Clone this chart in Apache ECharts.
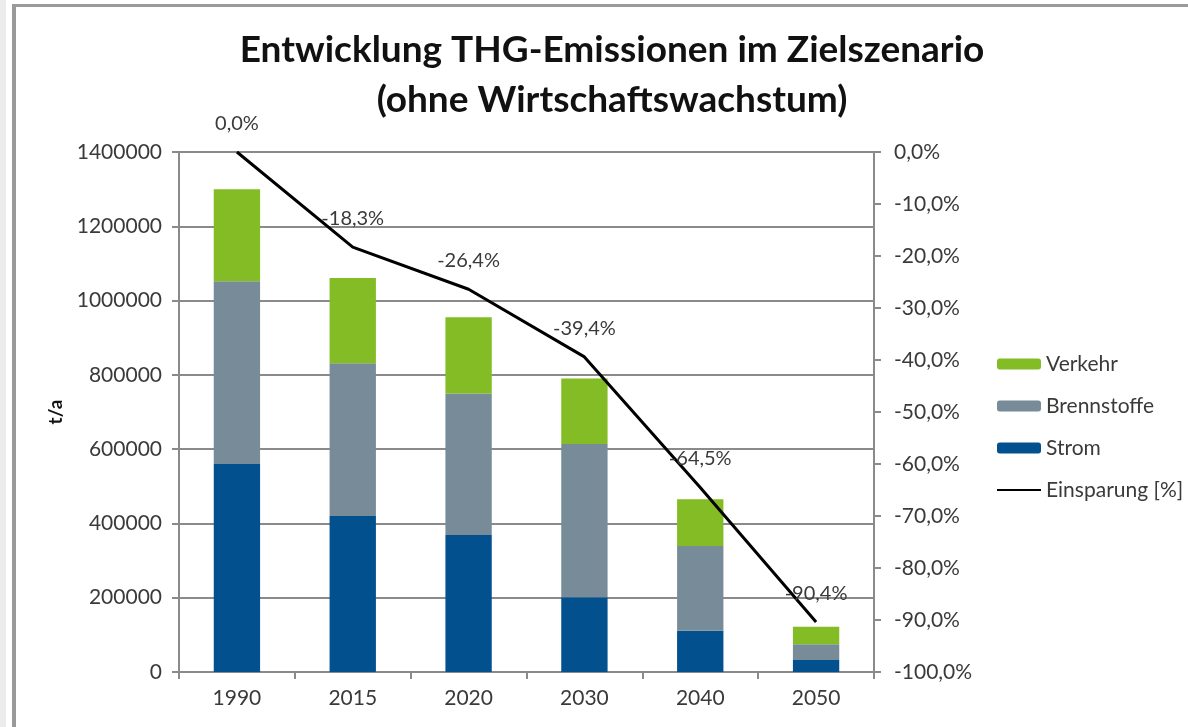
<!DOCTYPE html>
<html lang="de">
<head>
    <meta charset="UTF-8">
    <title>THG-Emissionen</title>
    <style>
        html, body { margin: 0; padding: 0; background: #fff; overflow: hidden; }
        #main { position: absolute; left: 0; top: 0; width: 1188px; height: 727px; }
        .strip { position: absolute; left: 0; top: 0; width: 6px; height: 727px; background: #ececec; }
        .frame { position: absolute; left: 12px; top: 4px; width: 1300px; height: 900px;
                 border-left: 4px solid #9a9a9a; border-top: 3px solid #9a9a9a; pointer-events: none; }
    </style>
</head>
<body>
    <div id="main"></div>
    <div class="strip"></div>
    <div class="frame"></div>

    <script src="https://cdn.jsdelivr.net/npm/echarts@6/dist/echarts.min.js"></script>
    <script>
        // Daten
        var jahre = ['1990', '2015', '2020', '2030', '2040', '2050'];
        var strom = [560000, 420000, 369000, 201000, 111000, 32000];
        var brennstoffe = [492000, 411000, 381000, 413000, 228000, 43000];
        var verkehr = [248000, 230000, 205000, 176000, 126000, 47000];
        var einsparung = [0.0, -18.3, -26.4, -39.4, -64.5, -90.4];

        var font = 'Lato';
        var textColor = '#3a3a3a';
        var grau = '#8a8a8a';

        function prozent(v) {
            return v.toFixed(1).replace('.', ',') + '%';
        }

        var myChart = echarts.init(document.getElementById('main'));
        var option = {
            backgroundColor: '#fff',
            animation: false,
            textStyle: { fontFamily: font },
            title: {
                text: 'Entwicklung THG-Emissionen im Zielszenario\n(ohne Wirtschaftswachstum)',
                left: 607,
                top: 20,
                textAlign: 'center',
                textStyle: { fontFamily: font, fontSize: 37, fontWeight: 'bold', color: '#111', lineHeight: 50 }
            },
            legend: {
                orient: 'vertical',
                left: 991,
                top: 348,
                itemWidth: 44,
                itemHeight: 11,
                itemGap: 20,
                textStyle: { fontFamily: font, fontSize: 21, lineHeight: 22, color: textColor },
                data: ['Verkehr', 'Brennstoffe', 'Strom', 'Einsparung [%]']
            },
            grid: { left: 179, right: 314, top: 152, bottom: 55 },
            xAxis: {
                type: 'category',
                data: jahre,
                axisLine: { lineStyle: { color: grau, width: 2 } },
                axisTick: { show: true, length: 7, lineStyle: { color: grau, width: 2 } },
                axisLabel: { fontSize: 21, color: textColor, margin: 16 }
            },
            yAxis: [
                {
                    type: 'value',
                    min: 0,
                    max: 1400000,
                    interval: 200000,
                    name: 't/a',
                    nameLocation: 'middle',
                    nameRotate: 90,
                    nameGap: 106,
                    nameTextStyle: { fontSize: 19, fontWeight: 'bold', color: '#111' },
                    axisLine: { show: true, lineStyle: { color: grau, width: 2 } },
                    axisTick: { show: true, length: 7, lineStyle: { color: grau, width: 2 } },
                    axisLabel: { fontSize: 21, color: textColor, margin: 17, formatter: function (v) { return String(v); } },
                    splitLine: { lineStyle: { color: grau, width: 2 } }
                },
                {
                    type: 'value',
                    min: -100,
                    max: 0,
                    interval: 10,
                    position: 'right',
                    axisLine: { show: true, lineStyle: { color: grau, width: 2 } },
                    axisTick: { show: true, length: 7, lineStyle: { color: grau, width: 2 } },
                    axisLabel: { fontSize: 21, color: textColor, margin: 20, formatter: prozent },
                    splitLine: { show: false }
                }
            ],
            series: [
                {
                    name: 'Strom', type: 'bar', stack: 'thg', barWidth: '40%',
                    itemStyle: { color: '#02508e' }, data: strom
                },
                {
                    name: 'Brennstoffe', type: 'bar', stack: 'thg',
                    itemStyle: { color: '#778c98' }, data: brennstoffe
                },
                {
                    name: 'Verkehr', type: 'bar', stack: 'thg',
                    itemStyle: { color: '#84bc25' }, data: verkehr
                },
                {
                    name: 'Einsparung [%]', type: 'line', yAxisIndex: 1,
                    symbol: 'circle',
                    symbolSize: 1,
                    lineStyle: { color: '#000', width: 3 },
                    itemStyle: { color: 'rgba(0,0,0,0)' },
                    label: {
                        show: true, position: 'top', distance: 18,
                        fontSize: 20, color: textColor,
                        formatter: function (p) { return prozent(p.value); }
                    },
                    data: einsparung
                }
            ]
        };
        myChart.setOption(option);
    </script>
</body>
</html>
